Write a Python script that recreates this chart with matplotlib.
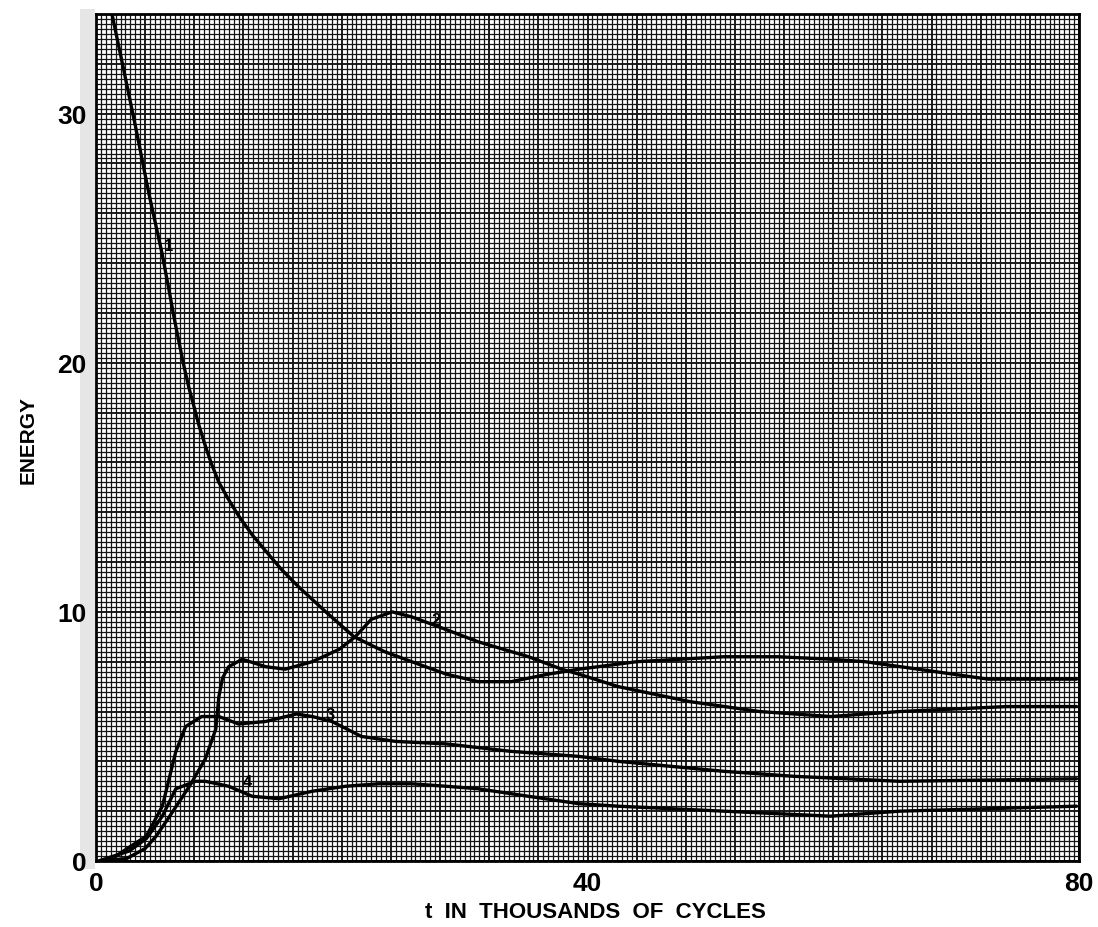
import numpy as np
import matplotlib
matplotlib.use("Agg")
import matplotlib.pyplot as plt
from matplotlib.patches import Rectangle

# ---- data (t in thousands of cycles, energy) ----
t_mode1 = [1.3, 2.28, 3.25, 4.3, 5.37, 5.93, 6.34, 6.75, 7.15, 7.56, 7.97, 8.37, 8.94, 9.43,
           10.0, 10.8, 11.6, 12.7, 13.8, 15.1, 16.5, 17.6, 18.7, 21.0, 23.5, 25.7, 28.5,
           31.1, 33.8, 36.8, 39.3, 44.0, 51.1, 55.5, 59.8, 62.6, 66.9, 72.6, 76.0, 79.8]
e_mode1 = [34.0, 31.7, 29.4, 26.8, 24.4, 22.95, 21.85, 20.84, 19.88, 19.0, 18.25, 17.5, 16.6, 15.9,
           15.2, 14.5, 13.86, 13.1, 12.45, 11.7, 11.0, 10.5, 10.0, 9.0, 8.4, 8.0, 7.5,
           7.2, 7.2, 7.5, 7.7, 8.0, 8.2, 8.2, 8.1, 8.0, 7.7, 7.3, 7.3, 7.3]

t_mode2 = [0.3, 2.5, 4.0, 4.9, 6.0, 7.6, 8.9, 9.75, 10.0, 10.3, 10.8, 11.9, 13.8, 15.4, 17.6,
           19.8, 21.1, 22.4, 24.1, 25.7, 27.9, 31.1, 35.2, 37.9, 39.3, 42.5, 48.3, 54.0, 59.8,
           65.4, 74.1, 79.8]
e_mode2 = [0.0, 0.1, 0.5, 1.0, 1.8, 3.0, 4.1, 5.3, 6.6, 7.35, 7.8, 8.1, 7.8, 7.7, 8.0,
           8.5, 9.0, 9.7, 10.0, 9.8, 9.4, 8.8, 8.2, 7.7, 7.5, 7.0, 6.4, 6.0, 5.8,
           6.0, 6.2, 6.2]

t_mode3 = [1.3, 4.1, 5.4, 6.5, 7.3, 8.6, 10.0, 11.6, 13.8, 16.3, 17.6, 19.2, 21.6, 24.4,
           28.5, 33.8, 39.3, 42.5, 51.1, 56.8, 65.4, 79.8]
e_mode3 = [0.1, 1.0, 2.2, 4.4, 5.4, 5.8, 5.8, 5.5, 5.6, 5.9, 5.8, 5.6, 5.0, 4.8,
           4.7, 4.4, 4.2, 4.0, 3.6, 3.4, 3.2, 3.3]

t_mode4 = [0.2, 2.7, 4.1, 5.4, 6.5, 8.1, 8.9, 10.8, 12.7, 14.9, 17.6, 20.3, 23.0, 25.7,
           28.5, 31.1, 33.8, 39.3, 42.5, 51.1, 59.8, 65.4, 79.8]
e_mode4 = [0.0, 0.4, 0.9, 1.8, 2.9, 3.2, 3.2, 3.0, 2.6, 2.5, 2.8, 3.0, 3.1, 3.1,
           3.0, 2.9, 2.7, 2.3, 2.2, 2.0, 1.8, 2.0, 2.2]

curve_labels = ["1", "2", "3", "4"]
label_t = [5.9, 27.7, 19.1, 12.3]
label_e = [24.7, 9.7, 5.9, 3.2]

x_ticks = [0, 40, 80]
y_ticks = [0, 10, 20, 30]

# ---- figure ----
W, H = 1098, 928
fig = plt.figure(figsize=(W / 100, H / 100), dpi=100)
fig.patch.set_facecolor("white")

# faint halftone strip left of the paper (scan artefact), behind everything
fig.patches.append(Rectangle((80 / W, 1 - 870 / H), 15 / W, 860 / H,
                             transform=fig.transFigure, facecolor="#e6e6e6",
                             edgecolor="none", zorder=-10))

left, right, top, bottom = 96, 1079, 15, 862
ax = fig.add_axes([left / W, 1 - bottom / H, (right - left) / W, (bottom - top) / H])
ax.set_zorder(1)
ax.set_xlim(0, 80)
ax.set_ylim(0, 34)
ax.set_facecolor("white")

# graph-paper grid
for xv in np.arange(0, 80.01, 0.4):
    major = abs(xv / 4 - round(xv / 4)) < 1e-6
    ax.axvline(xv, color="#141414", lw=1.35 if major else 0.9, zorder=1)
for yv in np.arange(0, 34.01, 0.2):
    major = abs(yv / 2 - round(yv / 2)) < 1e-6
    ax.axhline(yv, color="#141414", lw=1.35 if major else 0.9, zorder=1)

# curves
for tt, ee in [(t_mode1, e_mode1), (t_mode2, e_mode2), (t_mode3, e_mode3), (t_mode4, e_mode4)]:
    ax.plot(tt, ee, color="black", lw=2.4, solid_capstyle="round",
            solid_joinstyle="round", zorder=3)

for lab, lt, le in zip(curve_labels, label_t, label_e):
    ax.text(lt, le, lab, fontsize=12, fontweight="bold", color="black",
            ha="center", va="center", zorder=4, family="Liberation Sans")

for s in ax.spines.values():
    s.set_linewidth(2.0)
    s.set_color("black")

ax.set_xticks(x_ticks)
ax.set_yticks(y_ticks)
ax.set_xticklabels([str(v) for v in x_ticks], fontsize=19, fontweight="bold",
                   family="Liberation Sans")
ax.set_yticklabels([str(v) for v in y_ticks], fontsize=19, fontweight="bold",
                   family="Liberation Sans")
ax.tick_params(axis="both", length=0, pad=7)

fig.text(28 / W, 1 - 440 / H, "ENERGY", rotation=90, ha="center", va="center",
         fontsize=15, fontweight="bold", family="Liberation Sans")
fig.text(595 / W, 1 - 913 / H, "t  IN  THOUSANDS  OF  CYCLES", ha="center", va="center",
         fontsize=16, fontweight="bold", family="Liberation Sans")

fig.savefig("out.png", dpi=100, facecolor="white")
